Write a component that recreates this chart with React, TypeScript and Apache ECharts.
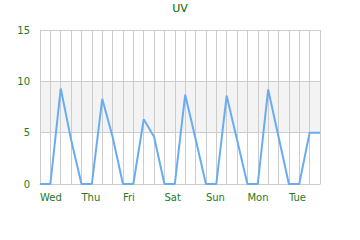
import React, { useEffect, useRef } from "react";
import * as echarts from "echarts";

const categories: string[] = [
  "Wed", "", "", "", "Thu", "", "", "", "Fri", "", "", "", "Sat", "", "", "",
  "Sun", "", "", "", "Mon", "", "", "", "Tue", "", "", "",
];
const uvValues: number[] = [
  0, 0, 9.3, 4.3, 0, 0, 8.3, 4.6, 0, 0, 6.3, 4.6, 0, 0, 8.7, 4.4,
  0, 0, 8.6, 4.3, 0, 0, 9.2, 4.6, 0, 0, 5, 5,
];
const yTicks = { min: 0, max: 15, interval: 5 };

export default function App() {
  const ref = useRef<HTMLDivElement>(null);
  useEffect(() => {
    if (!ref.current) return;
    const chart = echarts.init(ref.current, undefined, { renderer: "svg" });
    chart.setOption({
      animation: false,
      title: {
        text: "UV",
        left: "center",
        top: 1,
        padding: 2,
        textStyle: { color: "#006400", fontSize: 11, fontWeight: "normal", fontFamily: "DejaVu Sans" },
      },
      grid: { left: 40, right: 40, top: 30, bottom: 56 },
      xAxis: {
        type: "category",
        data: categories.map((c, i) => String(i)),
        boundaryGap: false,
        axisLine: { lineStyle: { color: "#ccc" } },
        axisTick: { show: false },
        splitLine: { show: true, interval: 0, lineStyle: { color: "#ccc" } },
        axisLabel: {
          interval: 0,
          align: "left",
          margin: 8,
          color: "#237a23",
          fontSize: 10,
          fontFamily: "DejaVu Sans",
          formatter: (v: string) => categories[Number(v)],
        },
      },
      yAxis: {
        type: "value",
        min: yTicks.min,
        max: yTicks.max,
        interval: yTicks.interval,
        axisLine: { show: true, lineStyle: { color: "#ccc" } },
        axisTick: { show: false },
        splitLine: { lineStyle: { color: "#ccc" } },
        splitArea: { show: true, areaStyle: { color: ["#ffffff", "#f3f3f3"] } },
        axisLabel: { color: "#237a23", fontSize: 10, margin: 10, fontFamily: "DejaVu Sans" },
      },
      series: [
        {
          type: "line",
          data: uvValues,
          showSymbol: false,
          symbol: "none",
          lineStyle: { color: "#6aabf2", width: 2 },
        },
      ],
    });
    return () => chart.dispose();
  }, []);
  return (
    <div
      ref={ref}
      style={{ position: "absolute", left: 0, top: 0, width: 360, height: 240 }}
    />
  );
}
